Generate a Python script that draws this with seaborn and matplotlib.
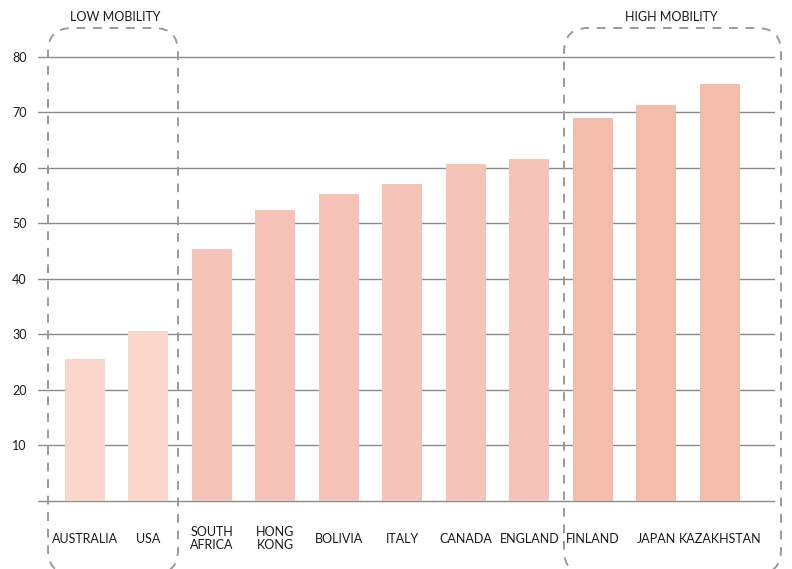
import matplotlib
matplotlib.use("Agg")
import matplotlib.pyplot as plt
from matplotlib.patches import FancyBboxPatch
from matplotlib.transforms import IdentityTransform
import seaborn as sns

# values
countries = ['AUSTRALIA', 'USA', 'SOUTH\nAFRICA', 'HONG\nKONG', 'BOLIVIA', 'ITALY',
             'CANADA', 'ENGLAND', 'FINLAND', 'JAPAN', 'KAZAKHSTAN']
values = [25.6, 30.7, 45.4, 52.4, 55.3, 57.1, 60.7, 61.6, 69.0, 71.3, 75.1]
groups = ['low', 'low', 'mid', 'mid', 'mid', 'mid', 'mid', 'mid', 'high', 'high', 'high']
group_colors = {'low': '#F9D5CA', 'mid': '#F5C3B7', 'high': '#F4BCAA'}
ytick_values = [0, 10, 20, 30, 40, 50, 60, 70, 80]
ytick_labels = ['', '10', '20', '30', '40', '50', '60', '70', '80']

sns.set_style('white')
plt.rcParams['font.family'] = ['Lato', 'DejaVu Sans']

W, H = 792, 569
fig = plt.figure(figsize=(W / 100, H / 100), dpi=100)
ax = fig.add_axes([38 / W, 1 - 502.5 / H, (775 - 38) / W, (502.5 - 54.2) / H])

palette = [group_colors[g] for g in groups]
sns.barplot(x=countries, y=values, hue=countries, palette=palette, legend=False,
            width=0.63, saturation=1, linewidth=0, ax=ax, zorder=3)

ax.set_xlim(-0.74, 10.87)
ax.set_ylim(-0.3, 80.5)
ax.set_yticks(ytick_values)
ax.set_yticklabels(ytick_labels)
ax.grid(axis='y', color='#8a8a8a', linewidth=1, zorder=1)
ax.grid(axis='x', visible=False)
for s in ax.spines.values():
    s.set_visible(False)
ax.set_xlabel('')
ax.set_ylabel('')
ax.tick_params(axis='y', length=0, pad=8, labelsize=9, labelcolor='#1a1a1a')
ax.tick_params(axis='x', length=0, pad=26, labelsize=9, labelcolor='#1a1a1a')
for lbl in ax.get_xticklabels():
    lbl.set_linespacing(1.1)
    lbl.set_verticalalignment('center')

# dashed rounded group outlines (pixel coordinates, origin bottom-left)
def group_box(x0, x1, top):
    box = FancyBboxPatch((x0, -5), x1 - x0, (H - top) + 5,
                         boxstyle='round,pad=0,rounding_size=24',
                         transform=IdentityTransform(), fill=False,
                         edgecolor='#9a9a9a', linewidth=1.4,
                         linestyle=(0, (4.5, 4)), clip_on=False, zorder=5)
    fig.patches.append(box)

group_box(48, 178, 28)
group_box(564, 781, 28)

fig.text(115 / W, 1 - 17 / H, 'LOW MOBILITY', ha='center', va='center',
         fontsize=9, color='#1a1a1a')
fig.text(671 / W, 1 - 17 / H, 'HIGH MOBILITY', ha='center', va='center',
         fontsize=9, color='#1a1a1a')

fig.savefig('out.png', dpi=100)
